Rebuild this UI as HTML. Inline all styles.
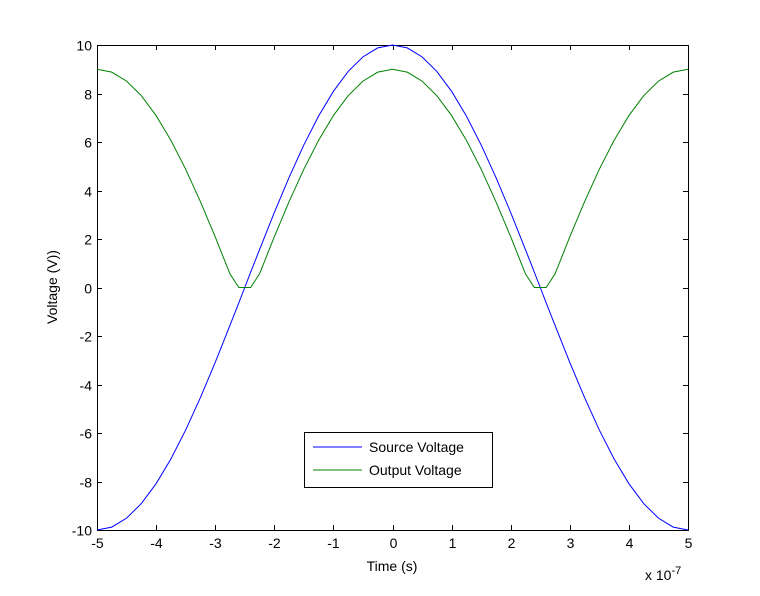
<!DOCTYPE html>
<html><head><meta charset="utf-8"><style>
body{margin:0;background:#fff}
svg{display:block;font-family:"Liberation Sans",Arial,sans-serif}
</style></head><body>
<svg id="chart" width="760" height="596">
<rect width="760" height="596" fill="#fff"/>
<g id="plot"></g>
<text x="392" y="571" font-size="14" text-anchor="middle">Time (s)</text>
<text x="645" y="580" font-size="14">x 10<tspan dy="-6" font-size="11">-7</tspan></text>
<text transform="translate(57,287) rotate(-90)" font-size="14" text-anchor="middle">Voltage (V))</text>
<g>
<rect x="304.5" y="432.5" width="188" height="55" fill="#fff" stroke="#000"/>
<line x1="313" y1="447" x2="362" y2="447" stroke="#0000ff"/>
<text x="369" y="452" font-size="14">Source Voltage</text>
<line x1="313" y1="470" x2="362" y2="470" stroke="#008000"/>
<text x="369" y="475" font-size="14">Output Voltage</text>
</g>
</svg>
<script>
const times = [-5,-4.75,-4.5,-4.25,-4,-3.75,-3.5,-3.25,-3,-2.75,-2.6,-2.5,-2.4,-2.25,-2,-1.75,-1.5,-1.25,-1,-0.75,-0.5,-0.25,0,0.25,0.5,0.75,1,1.25,1.5,1.75,2,2.25,2.4,2.5,2.6,2.75,3,3.25,3.5,3.75,4,4.25,4.5,4.75,5];
const sourceV = [-10,-9.88,-9.51,-8.91,-8.09,-7.07,-5.88,-4.54,-3.09,-1.56,-0.63,0,0.63,1.56,3.09,4.54,5.88,7.07,8.09,8.91,9.51,9.88,10,9.88,9.51,8.91,8.09,7.07,5.88,4.54,3.09,1.56,0.63,0,-0.63,-1.56,-3.09,-4.54,-5.88,-7.07,-8.09,-8.91,-9.51,-9.88,-10];
const outputV = [9,8.88,8.51,7.91,7.09,6.07,4.88,3.54,2.09,0.56,0,0,0,0.56,2.09,3.54,4.88,6.07,7.09,7.91,8.51,8.88,9,8.88,8.51,7.91,7.09,6.07,4.88,3.54,2.09,0.56,0,0,0,0.56,2.09,3.54,4.88,6.07,7.09,7.91,8.51,8.88,9];
const xTicks = [-5,-4,-3,-2,-1,0,1,2,3,4,5];
const yTicks = [-10,-8,-6,-4,-2,0,2,4,6,8,10];
const L=97,R=688,T=45,B=530;
const xs=v=>L+(v+5)/10*(R-L);
const ys=v=>B-(v+10)/20*(B-T);
const NS='http://www.w3.org/2000/svg';
const g=document.getElementById('plot');
function mk(t,a){const e=document.createElementNS(NS,t);for(const k in a)e.setAttribute(k,a[k]);g.appendChild(e);return e;}
const frame=mk('rect',{x:L+0.5,y:T+0.5,width:R-L,height:B-T,fill:'none',stroke:'#000'});


xTicks.forEach(v=>{const x=Math.round(xs(v))+0.5;
 mk('line',{x1:x,y1:B,x2:x,y2:B-5,stroke:'#000'});
 mk('line',{x1:x,y1:T,x2:x,y2:T+5,stroke:'#000'});
 const t=mk('text',{x:x,y:B+18,'font-size':14,'text-anchor':'middle'});t.textContent=v;
 
 });
yTicks.forEach(v=>{const y=Math.round(ys(v))+0.5;
 mk('line',{x1:L,y1:y,x2:L+5,y2:y,stroke:'#000'});
 mk('line',{x1:R,y1:y,x2:R-5,y2:y,stroke:'#000'});
 const t=mk('text',{x:L-5,y:y+5,'font-size':14,'text-anchor':'end'});t.textContent=v;
 
 });
function line(vals,c,name){const p=mk('polyline',{points:times.map((t,i)=>xs(t)+','+ys(vals[i])).join(' '),fill:'none',stroke:c,'stroke-width':1});
 
 }
line(sourceV,'#0000ff','source-voltage-line');
line(outputV,'#008000','output-voltage-line');
</script>
</body></html>
